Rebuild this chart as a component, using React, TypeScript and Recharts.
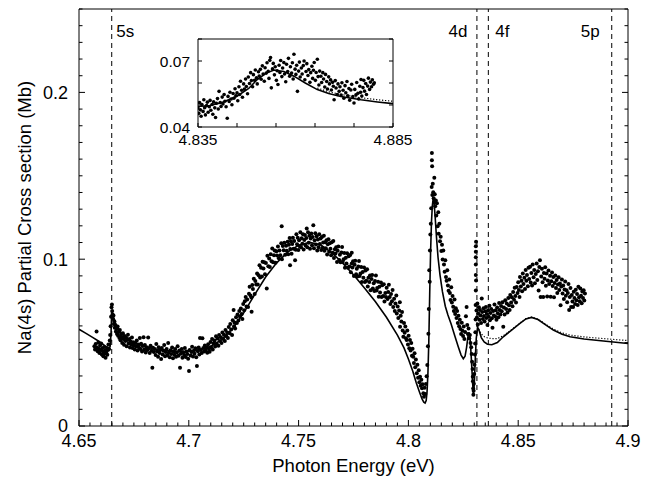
import React from 'react';
import { ComposedChart, Scatter, Line, XAxis, YAxis, ReferenceLine } from 'recharts';

type Pt = [number, number];

const FONT = '"Liberation Sans", Arial, Helvetica, sans-serif';

// axes
const xMajor = [4.65, 4.7, 4.75, 4.8, 4.85, 4.9];
const yMajor = [0, 0.1, 0.2];
const xTicks = Array.from({ length: 51 }, (_, i) => +(4.65 + i * 0.005).toFixed(3));
const yTicks = Array.from({ length: 26 }, (_, i) => +(i * 0.01).toFixed(2));

const insetXTicks = [4.835, 4.845, 4.855, 4.865, 4.875, 4.885];
const insetXLabels = [4.835, 4.885];
const insetYTicks = [0.04, 0.05, 0.06, 0.07, 0.08];
const insetYLabels = [0.04, 0.07];

// thresholds (dashed lines)
const edgeNames = ['5s', '4d', '4f', '5p'];
const edgeEnergies = [4.6649, 4.8312, 4.8364, 4.8926];

// measured points, by region
const measured5s: Pt[] = [
  [4.6570, 0.0478], [4.6573, 0.0459], [4.6576, 0.0492], [4.6580, 0.0566], [4.6582, 0.0470], [4.6585, 0.0448],
  [4.6588, 0.0501], [4.6590, 0.0463], [4.6593, 0.0437], [4.6596, 0.0482], [4.6598, 0.0455], [4.6601, 0.0495],
  [4.6604, 0.0429], [4.6606, 0.0466], [4.6609, 0.0447], [4.6611, 0.0418], [4.6614, 0.0474], [4.6616, 0.0433],
  [4.6619, 0.0452], [4.6621, 0.0409], [4.6624, 0.0441], [4.6627, 0.0468], [4.6629, 0.0427], [4.6632, 0.0455],
  [4.6634, 0.0489], [4.6637, 0.0462], [4.6640, 0.0512], [4.6642, 0.0545], [4.6644, 0.0598], [4.6646, 0.0655],
  [4.6648, 0.0712], [4.6650, 0.0728], [4.6651, 0.0690], [4.6653, 0.0668], [4.6655, 0.0641], [4.6657, 0.0662],
  [4.6659, 0.0612], [4.6661, 0.0628], [4.6663, 0.0589], [4.6666, 0.0603], [4.6668, 0.0567], [4.6671, 0.0581],
  [4.6673, 0.0552], [4.6676, 0.0596], [4.6678, 0.0541], [4.6681, 0.0563], [4.6684, 0.0528], [4.6686, 0.0575],
  [4.6689, 0.0514], [4.6692, 0.0549], [4.6694, 0.0532], [4.6697, 0.0498], [4.6700, 0.0556], [4.6703, 0.0521],
  [4.6705, 0.0487], [4.6708, 0.0540], [4.6711, 0.0509], [4.6714, 0.0532], [4.6717, 0.0478], [4.6720, 0.0515],
  [4.6723, 0.0547], [4.6726, 0.0494], [4.6729, 0.0522], [4.6732, 0.0471], [4.6735, 0.0506], [4.6738, 0.0489],
  [4.6741, 0.0530], [4.6744, 0.0468], [4.6747, 0.0502], [4.6750, 0.0483], [4.6754, 0.0459], [4.6757, 0.0497],
  [4.6760, 0.0476], [4.6763, 0.0512], [4.6767, 0.0452], [4.6770, 0.0488], [4.6773, 0.0470], [4.6777, 0.0528],
  [4.6780, 0.0461], [4.6783, 0.0493], [4.6787, 0.0447], [4.6790, 0.0479], [4.6794, 0.0532], [4.6797, 0.0458],
  [4.6800, 0.0486], [4.6804, 0.0441], [4.6808, 0.0472], [4.6811, 0.0455], [4.6815, 0.0531], [4.6818, 0.0466],
  [4.6822, 0.0438], [4.6826, 0.0481], [4.6830, 0.0451], [4.6834, 0.0349], [4.6837, 0.0469], [4.6841, 0.0444],
];

const measuredValley: Pt[] = [
  [4.6845, 0.0462], [4.6849, 0.0425], [4.6852, 0.0491], [4.6856, 0.0448], [4.6860, 0.0415], [4.6863, 0.0472],
  [4.6867, 0.0437], [4.6870, 0.0456], [4.6874, 0.0402], [4.6877, 0.0468], [4.6881, 0.0429], [4.6885, 0.0451],
  [4.6888, 0.0486], [4.6892, 0.0418], [4.6895, 0.0443], [4.6899, 0.0461], [4.6902, 0.0424], [4.6906, 0.0497],
  [4.6909, 0.0439], [4.6913, 0.0412], [4.6917, 0.0454], [4.6920, 0.0431], [4.6924, 0.0470], [4.6928, 0.0406],
  [4.6931, 0.0446], [4.6935, 0.0427], [4.6938, 0.0462], [4.6942, 0.0415], [4.6946, 0.0440], [4.6949, 0.0478],
  [4.6953, 0.0421], [4.6957, 0.0452], [4.6960, 0.0349], [4.6964, 0.0433], [4.6968, 0.0461], [4.6971, 0.0409],
  [4.6975, 0.0442], [4.6979, 0.0425], [4.6982, 0.0468], [4.6986, 0.0414], [4.6990, 0.0447], [4.6993, 0.0431],
  [4.6997, 0.0403], [4.7001, 0.0330], [4.7004, 0.0456], [4.7008, 0.0422], [4.7012, 0.0444], [4.7015, 0.0475],
  [4.7019, 0.0417], [4.7023, 0.0451], [4.7026, 0.0433], [4.7030, 0.0466], [4.7034, 0.0412], [4.7037, 0.0360],
  [4.7041, 0.0448], [4.7045, 0.0470], [4.7048, 0.0429], [4.7051, 0.0528], [4.7055, 0.0455], [4.7059, 0.0437],
  [4.7062, 0.0526], [4.7066, 0.0468], [4.7070, 0.0446], [4.7073, 0.0483], [4.7077, 0.0452], [4.7081, 0.0471],
  [4.7084, 0.0439], [4.7088, 0.0490], [4.7092, 0.0462],
];

const measuredRise: Pt[] = [
  [4.7095, 0.0445], [4.7099, 0.0503], [4.7102, 0.0472], [4.7106, 0.0521], [4.7109, 0.0458], [4.7113, 0.0494],
  [4.7117, 0.0512], [4.7120, 0.0476], [4.7124, 0.0538], [4.7127, 0.0493], [4.7131, 0.0524], [4.7135, 0.0481],
  [4.7138, 0.0546], [4.7142, 0.0509], [4.7146, 0.0532], [4.7149, 0.0498], [4.7153, 0.0561], [4.7157, 0.0522],
  [4.7160, 0.0547], [4.7164, 0.0509], [4.7167, 0.0575], [4.7171, 0.0538], [4.7175, 0.0561], [4.7178, 0.0527],
  [4.7182, 0.0593], [4.7186, 0.0556], [4.7189, 0.0612], [4.7193, 0.0578], [4.7197, 0.0545], [4.7200, 0.0634],
  [4.7204, 0.0695], [4.7206, 0.0598], [4.7208, 0.0621], [4.7211, 0.0585], [4.7215, 0.0652], [4.7219, 0.0617],
  [4.7222, 0.0668], [4.7226, 0.0632], [4.7230, 0.0689], [4.7233, 0.0656], [4.7237, 0.0705], [4.7241, 0.0672],
  [4.7244, 0.0641], [4.7248, 0.0731], [4.7252, 0.0694], [4.7255, 0.0748], [4.7259, 0.0773], [4.7263, 0.0716],
  [4.7266, 0.0759], [4.7270, 0.0714], [4.7274, 0.0793], [4.7277, 0.0835], [4.7281, 0.0782], [4.7285, 0.0770],
  [4.7286, 0.0685], [4.7289, 0.0845], [4.7292, 0.0822], [4.7296, 0.0883], [4.7300, 0.0792], [4.7303, 0.0870],
  [4.7307, 0.0849], [4.7311, 0.0915], [4.7314, 0.0848], [4.7318, 0.0904], [4.7322, 0.0964], [4.7325, 0.0891],
  [4.7329, 0.0949], [4.7333, 0.0897], [4.7336, 0.0985], [4.7340, 0.0944], [4.7344, 0.0982], [4.7347, 0.0910],
  [4.7351, 0.0977], [4.7355, 0.0824], [4.7358, 0.1021], [4.7362, 0.0958], [4.7366, 0.1004], [4.7369, 0.0953],
  [4.7373, 0.1030], [4.7377, 0.0988], [4.7380, 0.1064], [4.7384, 0.0981], [4.7388, 0.1023], [4.7391, 0.1052],
  [4.7395, 0.0978], [4.7399, 0.1048], [4.7402, 0.1022], [4.7406, 0.1076], [4.7410, 0.1005], [4.7413, 0.1052],
  [4.7417, 0.1024], [4.7421, 0.1096], [4.7423, 0.1198], [4.7424, 0.1000], [4.7428, 0.1079], [4.7432, 0.1053],
  [4.7435, 0.1098], [4.7439, 0.1026], [4.7443, 0.1081], [4.7446, 0.1050],
];

const measuredTop: Pt[] = [
  [4.7450, 0.1105], [4.7453, 0.1030], [4.7456, 0.1086], [4.7459, 0.1127], [4.7461, 0.0964], [4.7462, 0.1061],
  [4.7465, 0.1108], [4.7468, 0.1033], [4.7471, 0.1091], [4.7474, 0.1129], [4.7477, 0.1062], [4.7480, 0.1109],
  [4.7484, 0.0994], [4.7487, 0.1057], [4.7490, 0.1150], [4.7493, 0.1090], [4.7496, 0.1129], [4.7499, 0.1055],
  [4.7502, 0.1113], [4.7505, 0.1078], [4.7508, 0.1161], [4.7511, 0.1071], [4.7514, 0.1126], [4.7517, 0.1093],
  [4.7520, 0.1150], [4.7523, 0.1058], [4.7526, 0.1115], [4.7529, 0.1145], [4.7532, 0.1082], [4.7535, 0.1127],
  [4.7537, 0.1184], [4.7540, 0.1072], [4.7543, 0.1162], [4.7546, 0.1098], [4.7549, 0.1140], [4.7552, 0.1062],
  [4.7555, 0.1124], [4.7558, 0.1154], [4.7561, 0.1083], [4.7564, 0.1133], [4.7567, 0.1204], [4.7570, 0.1066],
  [4.7573, 0.1114], [4.7576, 0.1155], [4.7579, 0.1088], [4.7582, 0.1137], [4.7585, 0.1052], [4.7588, 0.1118],
  [4.7591, 0.1071], [4.7594, 0.1150], [4.7597, 0.1091], [4.7600, 0.1124], [4.7603, 0.1055], [4.7606, 0.1133],
  [4.7609, 0.1069], [4.7612, 0.1100], [4.7615, 0.1141], [4.7618, 0.1051], [4.7621, 0.1102], [4.7624, 0.1066],
  [4.7627, 0.1114], [4.7630, 0.1028], [4.7633, 0.1089], [4.7636, 0.1119], [4.7639, 0.1045], [4.7642, 0.1095],
  [4.7645, 0.1063], [4.7648, 0.1023],
];

const measuredFall: Pt[] = [
  [4.7651, 0.1102], [4.7655, 0.1039], [4.7658, 0.1109], [4.7661, 0.1007], [4.7665, 0.1059], [4.7668, 0.1034],
  [4.7671, 0.1072], [4.7675, 0.0983], [4.7678, 0.1051], [4.7681, 0.1076], [4.7685, 0.0995], [4.7688, 0.1027],
  [4.7691, 0.0981], [4.7695, 0.1040], [4.7698, 0.1073], [4.7701, 0.0984], [4.7705, 0.1000], [4.7708, 0.1037],
  [4.7711, 0.0948], [4.7715, 0.1008], [4.7718, 0.0974], [4.7721, 0.1035], [4.7725, 0.0948], [4.7728, 0.1018],
  [4.7731, 0.0956], [4.7735, 0.1025], [4.7738, 0.0922], [4.7742, 0.0974], [4.7742, 0.1038], [4.7745, 0.0950],
  [4.7748, 0.0987], [4.7752, 0.0899], [4.7755, 0.0967], [4.7758, 0.0991], [4.7762, 0.0910], [4.7765, 0.0943],
  [4.7768, 0.0896], [4.7772, 0.0956], [4.7775, 0.0989], [4.7778, 0.0899], [4.7782, 0.0915], [4.7785, 0.0953],
  [4.7788, 0.0863], [4.7792, 0.0923], [4.7795, 0.0889], [4.7798, 0.0950], [4.7802, 0.0863], [4.7805, 0.0933],
  [4.7808, 0.0871], [4.7812, 0.0939], [4.7815, 0.0837], [4.7818, 0.0889], [4.7822, 0.0864], [4.7825, 0.0902],
  [4.7828, 0.0814], [4.7832, 0.0881], [4.7835, 0.0905], [4.7838, 0.0825], [4.7842, 0.0856], [4.7845, 0.0810],
  [4.7848, 0.0870], [4.7852, 0.0902], [4.7855, 0.0812], [4.7858, 0.0828], [4.7862, 0.0865], [4.7865, 0.0775],
  [4.7868, 0.0835], [4.7871, 0.0801], [4.7875, 0.0860], [4.7878, 0.0774], [4.7881, 0.0844], [4.7885, 0.0780],
  [4.7888, 0.0850], [4.7891, 0.0747], [4.7895, 0.0798], [4.7898, 0.0774],
];

const measuredFano: Pt[] = [
  [4.7901, 0.0829], [4.7905, 0.0761], [4.7908, 0.0803], [4.7911, 0.0847], [4.7915, 0.0774], [4.7918, 0.0731],
  [4.7921, 0.0792], [4.7925, 0.0748], [4.7928, 0.0815], [4.7931, 0.0714], [4.7935, 0.0763], [4.7938, 0.0689],
  [4.7941, 0.0735], [4.7945, 0.0782], [4.7947, 0.0675], [4.7951, 0.0716], [4.7954, 0.0648], [4.7958, 0.0693],
  [4.7961, 0.0742], [4.7962, 0.0595], [4.7965, 0.0661], [4.7968, 0.0627], [4.7971, 0.0684], [4.7974, 0.0572],
  [4.7977, 0.0535], [4.7980, 0.0618], [4.7983, 0.0559], [4.7986, 0.0597], [4.7989, 0.0526], [4.7992, 0.0515],
  [4.7995, 0.0573], [4.7998, 0.0488], [4.8001, 0.0541], [4.8004, 0.0466], [4.8007, 0.0515], [4.8010, 0.0452],
  [4.8013, 0.0497], [4.8016, 0.0421], [4.8019, 0.0463], [4.8022, 0.0415], [4.8025, 0.0378], [4.8028, 0.0436],
  [4.8031, 0.0352], [4.8034, 0.0398], [4.8038, 0.0316], [4.8041, 0.0367], [4.8044, 0.0289], [4.8047, 0.0334],
  [4.8050, 0.0262], [4.8053, 0.0295], [4.8056, 0.0241], [4.8059, 0.0278], [4.8062, 0.0226], [4.8065, 0.0251],
  [4.8068, 0.0196], [4.8071, 0.0176], [4.8074, 0.0229], [4.8077, 0.0192], [4.8080, 0.0252], [4.8083, 0.0298],
  [4.8086, 0.0365], [4.8089, 0.0478], [4.8091, 0.0553], [4.8093, 0.0702], [4.8095, 0.0934], [4.8097, 0.0865],
  [4.8098, 0.1052], [4.8100, 0.1148], [4.8102, 0.1213], [4.8104, 0.1306], [4.8106, 0.1433], [4.8107, 0.1637],
  [4.8107, 0.1593], [4.8108, 0.1558], [4.8109, 0.1385], [4.8111, 0.1452], [4.8113, 0.1402], [4.8115, 0.1366],
  [4.8118, 0.1489], [4.8119, 0.1345], [4.8120, 0.1390], [4.8122, 0.1318], [4.8125, 0.1352], [4.8127, 0.1262],
  [4.8130, 0.1335], [4.8133, 0.1198], [4.8136, 0.1281], [4.8138, 0.1152], [4.8141, 0.1213], [4.8144, 0.1108],
  [4.8147, 0.1135], [4.8150, 0.1049], [4.8153, 0.1087], [4.8156, 0.0998], [4.8159, 0.1052], [4.8162, 0.0968],
  [4.8165, 0.0925], [4.8168, 0.0994], [4.8171, 0.0893], [4.8174, 0.0871], [4.8177, 0.0934], [4.8180, 0.0842],
  [4.8183, 0.0811], [4.8186, 0.0878], [4.8189, 0.0797], [4.8192, 0.0756], [4.8195, 0.0832], [4.8198, 0.0741],
  [4.8201, 0.0779], [4.8204, 0.0715], [4.8207, 0.0690], [4.8210, 0.0758], [4.8213, 0.0672], [4.8216, 0.0706],
  [4.8219, 0.0648], [4.8222, 0.0689], [4.8225, 0.0617], [4.8228, 0.0661], [4.8231, 0.0598], [4.8234, 0.0637],
  [4.8237, 0.0582], [4.8240, 0.0552], [4.8243, 0.0619], [4.8246, 0.0571], [4.8249, 0.0540], [4.8252, 0.0596],
  [4.8255, 0.0522], [4.8258, 0.0563], [4.8262, 0.0658], [4.8265, 0.0714], [4.8268, 0.0605], [4.8271, 0.0551],
  [4.8274, 0.0584], [4.8277, 0.0526], [4.8280, 0.0545], [4.8283, 0.0498], [4.8286, 0.0472], [4.8288, 0.0431],
  [4.8290, 0.0385], [4.8292, 0.0342], [4.8293, 0.0296], [4.8294, 0.0268], [4.8295, 0.0225], [4.8296, 0.0188],
  [4.8297, 0.0212], [4.8298, 0.0254], [4.8300, 0.0312], [4.8301, 0.0367], [4.8303, 0.0428], [4.8304, 0.0495],
  [4.8305, 0.0562], [4.8306, 0.0638], [4.8306, 0.0725], [4.8307, 0.0812], [4.8307, 0.0905], [4.8307, 0.0968],
  [4.8307, 0.1012], [4.8307, 0.1045], [4.8307, 0.1078], [4.8308, 0.1104], [4.8308, 0.0873],
];

const measured4f: Pt[] = [
  [4.8310, 0.0692], [4.8312, 0.0651], [4.8314, 0.0734], [4.8316, 0.0608], [4.8318, 0.0675], [4.8321, 0.0712],
  [4.8323, 0.0637], [4.8326, 0.0695], [4.8328, 0.0662], [4.8331, 0.0618], [4.8334, 0.0765], [4.8336, 0.0683],
  [4.8339, 0.0641], [4.8342, 0.0706], [4.8344, 0.0659], [4.8347, 0.0627], [4.8350, 0.0688], [4.8353, 0.0714],
  [4.8355, 0.0648], [4.8357, 0.0672], [4.8360, 0.0605], [4.8363, 0.0693], [4.8366, 0.0655], [4.8369, 0.0721],
  [4.8371, 0.0634], [4.8374, 0.0678], [4.8377, 0.0702], [4.8380, 0.0646], [4.8383, 0.0589], [4.8386, 0.0689],
  [4.8389, 0.0663], [4.8392, 0.0728], [4.8395, 0.0657], [4.8398, 0.0694], [4.8401, 0.0637], [4.8404, 0.0711],
  [4.8407, 0.0676], [4.8410, 0.0652], [4.8413, 0.0738], [4.8416, 0.0695], [4.8419, 0.0668], [4.8422, 0.0719],
  [4.8425, 0.0688], [4.8428, 0.0742], [4.8432, 0.0595], [4.8435, 0.0711], [4.8438, 0.0668], [4.8441, 0.0754],
  [4.8445, 0.0702], [4.8448, 0.0735], [4.8451, 0.0681], [4.8455, 0.0768], [4.8458, 0.0724], [4.8461, 0.0696],
  [4.8464, 0.0785], [4.8468, 0.0741], [4.8471, 0.0772], [4.8474, 0.0718], [4.8477, 0.0803], [4.8481, 0.0757],
  [4.8484, 0.0829], [4.8487, 0.0779], [4.8490, 0.0741], [4.8493, 0.0834], [4.8497, 0.0798], [4.8500, 0.0862],
  [4.8503, 0.0816], [4.8506, 0.0773], [4.8508, 0.0894], [4.8512, 0.0837], [4.8515, 0.0871], [4.8518, 0.0808],
  [4.8521, 0.0914], [4.8524, 0.0852], [4.8528, 0.0889], [4.8531, 0.0821], [4.8534, 0.0936], [4.8537, 0.0871],
  [4.8540, 0.0905], [4.8544, 0.0838], [4.8547, 0.0948], [4.8550, 0.0882], [4.8554, 0.0954], [4.8557, 0.0861],
  [4.8560, 0.0917], [4.8563, 0.0843], [4.8566, 0.0968], [4.8570, 0.0892], [4.8573, 0.0935], [4.8576, 0.0856],
  [4.8580, 0.0911], [4.8584, 0.0974], [4.8587, 0.0876], [4.8590, 0.0928], [4.8593, 0.0812], [4.8596, 0.0953],
  [4.8599, 0.0994], [4.8602, 0.0774], [4.8605, 0.0897], [4.8608, 0.0942], [4.8611, 0.0862], [4.8614, 0.0774],
  [4.8617, 0.0918], [4.8620, 0.0883], [4.8623, 0.0951], [4.8626, 0.0841], [4.8629, 0.0914], [4.8632, 0.0776],
  [4.8635, 0.0873], [4.8638, 0.0932], [4.8641, 0.0852], [4.8645, 0.0901], [4.8648, 0.0775], [4.8651, 0.0868],
  [4.8654, 0.0921], [4.8657, 0.0839], [4.8660, 0.0894], [4.8663, 0.0772], [4.8666, 0.0858], [4.8669, 0.0903],
  [4.8672, 0.0827], [4.8675, 0.0876], [4.8678, 0.0798], [4.8681, 0.0849], [4.8684, 0.0892], [4.8687, 0.0816],
  [4.8690, 0.0854], [4.8693, 0.0724], [4.8696, 0.0837], [4.8699, 0.0878], [4.8702, 0.0795], [4.8705, 0.0843],
  [4.8708, 0.0762], [4.8711, 0.0819], [4.8714, 0.0866], [4.8717, 0.0781], [4.8720, 0.0814], [4.8723, 0.0742],
  [4.8726, 0.0797], [4.8729, 0.0851], [4.8732, 0.0695], [4.8735, 0.0774], [4.8738, 0.0828], [4.8741, 0.0714],
  [4.8744, 0.0786], [4.8747, 0.0746], [4.8750, 0.0714], [4.8753, 0.0805], [4.8756, 0.0768], [4.8759, 0.0731],
  [4.8762, 0.0817], [4.8765, 0.0754], [4.8768, 0.0792], [4.8771, 0.0726], [4.8774, 0.0835], [4.8777, 0.0772],
  [4.8780, 0.0748], [4.8783, 0.0824], [4.8786, 0.0781], [4.8789, 0.0736], [4.8792, 0.0806], [4.8795, 0.0768],
  [4.8798, 0.0814], [4.8801, 0.0752], [4.8804, 0.0795],
];

// theory (solid) and the companion dotted curve
const theoryCurve: Pt[] = [
  [4.650, 0.0580], [4.653, 0.0557], [4.656, 0.0533], [4.659, 0.0508], [4.661, 0.0490], [4.6625, 0.0474],
  [4.6635, 0.0462], [4.6642, 0.0478], [4.6646, 0.0560], [4.6649, 0.0690], [4.6652, 0.0672], [4.6658, 0.0648],
  [4.6665, 0.0622], [4.6675, 0.0593], [4.669, 0.0562], [4.671, 0.0534], [4.6735, 0.0510], [4.676, 0.0494],
  [4.680, 0.0476], [4.685, 0.0461], [4.690, 0.0452], [4.695, 0.0447], [4.700, 0.0448], [4.705, 0.0458],
  [4.710, 0.0478], [4.715, 0.0518], [4.720, 0.0585], [4.725, 0.0678], [4.730, 0.0788], [4.735, 0.0893],
  [4.740, 0.0978], [4.745, 0.1042], [4.750, 0.1083], [4.755, 0.1101], [4.760, 0.1087], [4.765, 0.1040],
  [4.770, 0.0978], [4.775, 0.0907], [4.780, 0.0828], [4.785, 0.0745], [4.790, 0.0652], [4.795, 0.0545],
  [4.798, 0.0468], [4.800, 0.0402], [4.802, 0.0328], [4.8035, 0.0262], [4.805, 0.0205], [4.8062, 0.0162],
  [4.8070, 0.0143], [4.8076, 0.0138], [4.8081, 0.0152], [4.8085, 0.0205], [4.8089, 0.0320], [4.8093, 0.0510],
  [4.8097, 0.0790], [4.8101, 0.1040], [4.8105, 0.1220], [4.8109, 0.1320], [4.8113, 0.1365], [4.8117, 0.1340],
  [4.8122, 0.1250], [4.8128, 0.1130], [4.8135, 0.1010], [4.8144, 0.0905], [4.8155, 0.0805], [4.8168, 0.0718],
  [4.8180, 0.0665], [4.8195, 0.0610], [4.8210, 0.0545], [4.8227, 0.0475], [4.8240, 0.0425], [4.8250, 0.0403],
  [4.8258, 0.0418], [4.8265, 0.0472], [4.8272, 0.0545], [4.8277, 0.0562], [4.8282, 0.0505], [4.8287, 0.0395],
  [4.8292, 0.0268], [4.8296, 0.0186], [4.8300, 0.0250], [4.8304, 0.0385], [4.8309, 0.0525], [4.8315, 0.0592],
  [4.8322, 0.0572], [4.8332, 0.0530], [4.8345, 0.0504], [4.8360, 0.0490], [4.8380, 0.0487], [4.8405, 0.0500],
  [4.8432, 0.0535], [4.8470, 0.0575], [4.8508, 0.0615], [4.8535, 0.0642], [4.8561, 0.0651], [4.8590, 0.0638],
  [4.8625, 0.0606], [4.8660, 0.0575], [4.8700, 0.0550], [4.8736, 0.0535], [4.8800, 0.0522], [4.8888, 0.0510],
  [4.9000, 0.0495],
];

const dottedCurve: Pt[] = [
  [4.8315, 0.0598], [4.8322, 0.0578], [4.8332, 0.0552], [4.8345, 0.0536], [4.8360, 0.0528], [4.8380, 0.0524],
  [4.8405, 0.0524], [4.8432, 0.0541], [4.8470, 0.0578], [4.8508, 0.0617], [4.8535, 0.0644], [4.8561, 0.0653],
  [4.8590, 0.0641], [4.8625, 0.0610], [4.8660, 0.0581], [4.8700, 0.0558], [4.8736, 0.0545], [4.8800, 0.0534],
  [4.8888, 0.0524], [4.9000, 0.0512],
];

// inset
const insetMeasured: Pt[] = [
  [4.8350, 0.0486], [4.8352, 0.0462], [4.8354, 0.0511], [4.8356, 0.0478], [4.8358, 0.0449], [4.8360, 0.0502],
  [4.8363, 0.0471], [4.8365, 0.0524], [4.8367, 0.0488], [4.8369, 0.0455], [4.8372, 0.0497], [4.8374, 0.0513],
  [4.8376, 0.0467], [4.8379, 0.0492], [4.8381, 0.0521], [4.8383, 0.0476], [4.8386, 0.0502], [4.8388, 0.0458],
  [4.8390, 0.0514], [4.8393, 0.0487], [4.8395, 0.0443], [4.8397, 0.0508], [4.8400, 0.0529], [4.8402, 0.0482],
  [4.8404, 0.0562], [4.8407, 0.0511], [4.8409, 0.0493], [4.8412, 0.0536], [4.8414, 0.0505], [4.8417, 0.0548],
  [4.8419, 0.0517], [4.8422, 0.0492], [4.8425, 0.0440], [4.8427, 0.0539], [4.8430, 0.0516], [4.8432, 0.0558],
  [4.8435, 0.0527], [4.8437, 0.0501], [4.8440, 0.0552], [4.8442, 0.0531], [4.8445, 0.0574], [4.8447, 0.0542],
  [4.8450, 0.0555], [4.8452, 0.0519], [4.8455, 0.0583], [4.8457, 0.0548], [4.8459, 0.0608], [4.8462, 0.0567],
  [4.8464, 0.0535], [4.8467, 0.0596], [4.8469, 0.0572], [4.8472, 0.0618], [4.8474, 0.0584], [4.8477, 0.0551],
  [4.8479, 0.0627], [4.8482, 0.0598], [4.8485, 0.0647], [4.8487, 0.0611], [4.8490, 0.0583], [4.8492, 0.0638],
  [4.8495, 0.0612], [4.8497, 0.0659], [4.8500, 0.0624], [4.8502, 0.0596], [4.8505, 0.0651], [4.8507, 0.0632],
  [4.8510, 0.0662], [4.8512, 0.0617], [4.8515, 0.0678], [4.8517, 0.0641], [4.8520, 0.0608], [4.8522, 0.0669],
  [4.8525, 0.0645], [4.8527, 0.0692], [4.8530, 0.0653], [4.8532, 0.0621], [4.8534, 0.0703], [4.8536, 0.0716],
  [4.8538, 0.0578], [4.8541, 0.0664], [4.8543, 0.0689], [4.8546, 0.0637], [4.8548, 0.0674], [4.8551, 0.0612],
  [4.8553, 0.0656], [4.8555, 0.0593], [4.8558, 0.0681], [4.8560, 0.0648], [4.8562, 0.0702], [4.8565, 0.0629],
  [4.8567, 0.0668], [4.8570, 0.0693], [4.8572, 0.0641], [4.8575, 0.0606], [4.8577, 0.0685], [4.8580, 0.0652],
  [4.8582, 0.0712], [4.8585, 0.0631], [4.8587, 0.0674], [4.8590, 0.0645], [4.8592, 0.0692], [4.8594, 0.0618],
  [4.8596, 0.0731], [4.8599, 0.0663], [4.8601, 0.0639], [4.8603, 0.0681], [4.8605, 0.0562], [4.8608, 0.0654],
  [4.8610, 0.0695], [4.8612, 0.0627], [4.8615, 0.0668], [4.8617, 0.0641], [4.8620, 0.0679], [4.8622, 0.0700],
  [4.8624, 0.0615], [4.8627, 0.0652], [4.8629, 0.0688], [4.8632, 0.0634], [4.8634, 0.0661], [4.8637, 0.0603],
  [4.8639, 0.0647], [4.8642, 0.0676], [4.8644, 0.0621], [4.8646, 0.0658], [4.8648, 0.0693], [4.8651, 0.0612],
  [4.8653, 0.0648], [4.8656, 0.0708], [4.8658, 0.0629], [4.8660, 0.0591], [4.8662, 0.0654], [4.8665, 0.0631],
  [4.8667, 0.0602], [4.8670, 0.0647], [4.8672, 0.0618], [4.8675, 0.0582], [4.8677, 0.0639], [4.8680, 0.0607],
  [4.8682, 0.0573], [4.8685, 0.0628], [4.8687, 0.0596], [4.8690, 0.0614], [4.8692, 0.0568], [4.8695, 0.0603],
  [4.8697, 0.0585], [4.8699, 0.0524], [4.8702, 0.0611], [4.8704, 0.0577], [4.8707, 0.0548], [4.8709, 0.0596],
  [4.8712, 0.0562], [4.8714, 0.0583], [4.8717, 0.0545], [4.8719, 0.0601], [4.8722, 0.0567], [4.8724, 0.0531],
  [4.8727, 0.0588], [4.8729, 0.0556], [4.8732, 0.0607], [4.8734, 0.0542], [4.8737, 0.0575], [4.8739, 0.0522],
  [4.8742, 0.0568], [4.8744, 0.0594], [4.8747, 0.0538], [4.8750, 0.0509], [4.8752, 0.0571], [4.8755, 0.0546],
  [4.8757, 0.0602], [4.8760, 0.0553], [4.8762, 0.0527], [4.8765, 0.0585], [4.8767, 0.0558], [4.8768, 0.0616],
  [4.8770, 0.0541], [4.8773, 0.0579], [4.8775, 0.0612], [4.8777, 0.0563], [4.8780, 0.0598], [4.8782, 0.0548],
  [4.8785, 0.0586], [4.8787, 0.0622], [4.8790, 0.0571], [4.8792, 0.0604], [4.8795, 0.0583], [4.8797, 0.0615],
  [4.8800, 0.0594], [4.8802, 0.0601],
];

const insetTheory: Pt[] = [
  [4.835, 0.0493], [4.838, 0.0498], [4.841, 0.0510], [4.845, 0.0540], [4.848, 0.0575], [4.8502, 0.0616],
  [4.8525, 0.0645], [4.8545, 0.0659], [4.857, 0.0652], [4.8596, 0.0631], [4.8625, 0.0600], [4.8656, 0.0570],
  [4.8685, 0.0552], [4.8716, 0.0539], [4.8768, 0.0524], [4.881, 0.0514], [4.885, 0.0506],
];

const insetDotted: Pt[] = [
  [4.8656, 0.0577], [4.8685, 0.0560], [4.8716, 0.0548], [4.8768, 0.0533], [4.881, 0.0524], [4.885, 0.0517],
];

const rows = (pts: Pt[]) => pts.map(([e, s]) => ({ e, s }));
const near = (list: number[], v: number) => list.some((m) => Math.abs(m - v) < 1e-6);

const Dot = (p: any) => <circle cx={p.cx} cy={p.cy} r={2} fill="#000" />;
const SmallDot = (p: any) => <circle cx={p.cx} cy={p.cy} r={1.8} fill="#000" />;

// inward ticks, drawn by hand so they sit inside the frame
const makeTick = (side: 'bottom' | 'top' | 'left' | 'right', majors: number[], labels: number[], size: number, major: number, minor: number, off: number) =>
  (p: any) => {
    const v = p.payload.value;
    const len = near(majors, v) ? major : minor;
    const show = near(labels, v);
    const x = p.x;
    const y = p.y;
    if (side === 'bottom') {
      return (
        <g>
          <line x1={x} x2={x} y1={y} y2={y - len} stroke="#000" />
          {show && <text x={x} y={y + off} textAnchor="middle" fontSize={size} fontFamily={FONT} fill="#000">{String(v)}</text>}
        </g>
      );
    }
    if (side === 'top') return <line x1={x} x2={x} y1={y} y2={y + len} stroke="#000" />;
    if (side === 'right') return <line x1={x} x2={x - len} y1={y} y2={y} stroke="#000" />;
    return (
      <g>
        <line x1={x} x2={x + len} y1={y} y2={y} stroke="#000" />
        {show && <text x={x - off} y={y + size * 0.36} textAnchor="end" fontSize={size} fontFamily={FONT} fill="#000">{String(v)}</text>}
      </g>
    );
  };

const EdgeLabel = (p: any) => {
  const i = p.idx;
  const vb = p.viewBox;
  const dx = [4.5, -9.5, 7, -12][i];
  return (
    <text x={vb.x + dx} y={vb.y + 28} textAnchor={dx > 0 ? 'start' : 'end'} fontSize={17} fontFamily={FONT} fill="#000">
      {edgeNames[i]}
    </text>
  );
};

const XTitle = (p: any) => {
  const vb = p.viewBox;
  return (
    <text x={vb.x + vb.width / 2} y={vb.y + 46} textAnchor="middle" fontSize={18.5} fontFamily={FONT} fill="#000">
      Photon Energy (eV)
    </text>
  );
};

const YTitle = (p: any) => {
  const vb = p.viewBox;
  const cx = vb.x + 30.5;
  const cy = vb.y + vb.height / 2;
  return (
    <text x={cx} y={cy} transform={`rotate(-90 ${cx} ${cy})`} textAnchor="middle" fontSize={18.5} fontFamily={FONT} fill="#000">
      Na(4s) Partial Cross section (Mb)
    </text>
  );
};

const axisLine = { stroke: '#000', strokeWidth: 1 };

export default function App() {
  const measured = rows([
    ...measured5s, ...measuredValley, ...measuredRise, ...measuredTop, ...measuredFall, ...measuredFano, ...measured4f,
  ]);
  return (
    <div style={{ position: 'absolute', left: 0, top: 0, width: 658, height: 477, background: '#fff', fontFamily: FONT }}>
      <ComposedChart width={658} height={477} margin={{ top: 0, right: 0, bottom: 0, left: 0 }}>
        <XAxis type="number" dataKey="e" domain={[4.65, 4.9]} allowDataOverflow ticks={xTicks} interval={0}
          tickSize={0} tickMargin={0} tickLine={false} axisLine={axisLine} height={51}
          tick={makeTick('bottom', xMajor, xMajor, 18, 6, 3.5, 21)} label={<XTitle />} />
        <XAxis xAxisId="top" orientation="top" type="number" domain={[4.65, 4.9]} allowDataOverflow ticks={xTicks} interval={0}
          tickSize={0} tickMargin={0} tickLine={false} axisLine={axisLine} height={9}
          tick={makeTick('top', xMajor, [], 18, 6, 3.5, 0)} />
        <YAxis type="number" dataKey="s" domain={[0, 0.25]} allowDataOverflow ticks={yTicks} interval={0}
          tickSize={0} tickMargin={0} tickLine={false} axisLine={axisLine} width={79}
          tick={makeTick('left', yMajor, yMajor, 18, 6, 3.5, 11)} label={<YTitle />} />
        <YAxis yAxisId="right" orientation="right" type="number" domain={[0, 0.25]} allowDataOverflow ticks={yTicks} interval={0}
          tickSize={0} tickMargin={0} tickLine={false} axisLine={axisLine} width={30}
          tick={makeTick('right', yMajor, [], 18, 6, 3.5, 0)} />
        {edgeEnergies.map((x, i) => (
          <ReferenceLine key={edgeNames[i]} x={x} stroke="#000" strokeWidth={1} strokeDasharray="5 4"
            label={<EdgeLabel idx={i} />} />
        ))}
        <Scatter data={measured} shape={Dot} isAnimationActive={false} />
        <Line data={rows(dottedCurve)} dataKey="s" type="linear" stroke="#000" strokeWidth={1.2}
          strokeDasharray="1.2 1.8" dot={false} isAnimationActive={false} />
        <Line data={rows(theoryCurve)} dataKey="s" type="linear" stroke="#000" strokeWidth={1.6}
          dot={false} isAnimationActive={false} />
      </ComposedChart>

      <div style={{ position: 'absolute', left: 150, top: 30 }}>
        <ComposedChart width={275} height={130} margin={{ top: 0, right: 0, bottom: 0, left: 0 }}>
          <XAxis type="number" dataKey="e" domain={[4.835, 4.885]} allowDataOverflow ticks={insetXTicks} interval={0}
            tickSize={0} tickMargin={0} tickLine={false} axisLine={axisLine} height={33}
            tick={makeTick('bottom', [], insetXLabels, 15.5, 4, 4, 18)} />
          <XAxis xAxisId="top" orientation="top" type="number" domain={[4.835, 4.885]} allowDataOverflow ticks={insetXTicks} interval={0}
            tickSize={0} tickMargin={0} tickLine={false} axisLine={axisLine} height={9}
            tick={makeTick('top', [], [], 15.5, 4, 4, 0)} />
          <YAxis type="number" dataKey="s" domain={[0.04, 0.08]} allowDataOverflow ticks={insetYTicks} interval={0}
            tickSize={0} tickMargin={0} tickLine={false} axisLine={axisLine} width={48}
            tick={makeTick('left', [], insetYLabels, 15.5, 4, 4, 8)} />
          <YAxis yAxisId="right" orientation="right" type="number" domain={[0.04, 0.08]} allowDataOverflow ticks={insetYTicks} interval={0}
            tickSize={0} tickMargin={0} tickLine={false} axisLine={axisLine} width={32}
            tick={makeTick('right', [], [], 15.5, 4, 4, 0)} />
          <Scatter data={rows(insetMeasured)} shape={SmallDot} isAnimationActive={false} />
          <Line data={rows(insetDotted)} dataKey="s" type="linear" stroke="#000" strokeWidth={1.2}
            strokeDasharray="1.2 1.8" dot={false} isAnimationActive={false} />
          <Line data={rows(insetTheory)} dataKey="s" type="linear" stroke="#000" strokeWidth={1.6}
            dot={false} isAnimationActive={false} />
        </ComposedChart>
      </div>
    </div>
  );
}
